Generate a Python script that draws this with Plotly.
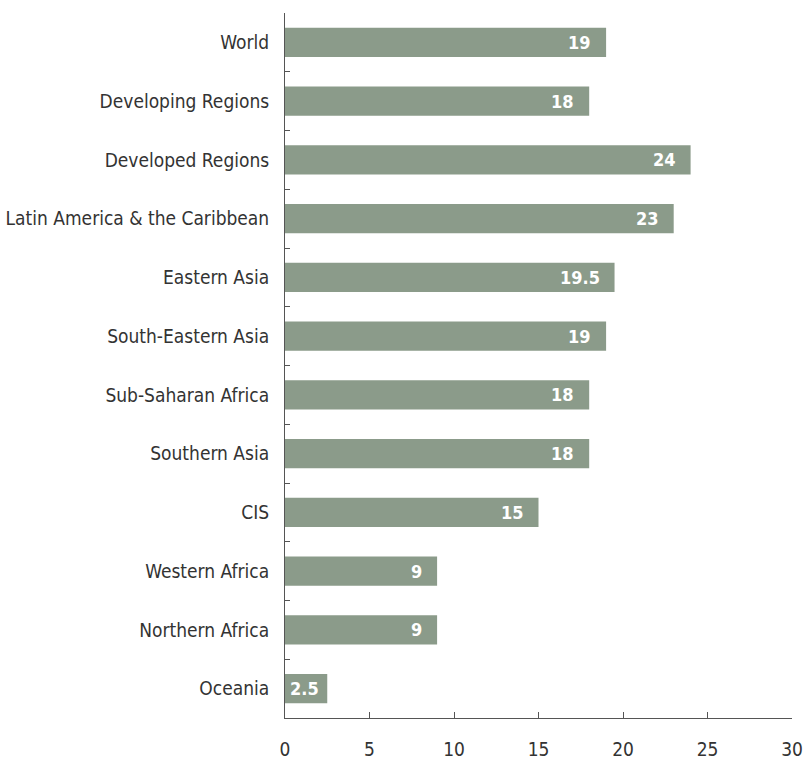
import plotly.graph_objects as go

# Regional values, top to bottom
regions = [
    "World",
    "Developing Regions",
    "Developed Regions",
    "Latin America & the Caribbean",
    "Eastern Asia",
    "South-Eastern Asia",
    "Sub-Saharan Africa",
    "Southern Asia",
    "CIS",
    "Western Africa",
    "Northern Africa",
    "Oceania",
]
values = [19, 18, 24, 23, 19.5, 19, 18, 18, 15, 9, 9, 2.5]
value_labels = ["19", "18", "24", "23", "19.5", "19", "18", "18", "15", "9", "9", "2.5"]
x_ticks = [0, 5, 10, 15, 20, 25, 30]

FONT = "DejaVu Sans Condensed, Roboto, Arial, sans-serif"
BAR_COLOR = "#8b9b8a"
AXIS_COLOR = "#555555"
TEXT_COLOR = "#333333"

fig = go.Figure(
    go.Bar(
        x=values,
        y=regions,
        orientation="h",
        marker=dict(color=BAR_COLOR, line=dict(width=0)),
        hoverinfo="skip",
    )
)

# value labels inside the bar ends
for name, v, lab in zip(regions, values, value_labels):
    fig.add_annotation(
        x=v, y=name, xref="x", yref="y",
        text="<b>" + lab + "</b>",
        showarrow=False, xanchor="right", yanchor="middle",
        xshift=-13 if v > 5 else -6,
        font=dict(family=FONT, size=18, color="white"),
    )

fig.update_layout(
    width=811, height=761,
    margin=dict(l=285, r=19, t=13, b=43),
    plot_bgcolor="white", paper_bgcolor="white",
    bargap=0.5,
    showlegend=False,
    font=dict(family=FONT, size=19, color=TEXT_COLOR),
)

fig.update_xaxes(
    range=[0, 30],
    tickvals=x_ticks,
    ticktext=[str(t) for t in x_ticks],
    showgrid=False, zeroline=False,
    showline=True, linecolor=AXIS_COLOR, linewidth=1,
    ticks="inside", ticklen=6, tickcolor=AXIS_COLOR,
    tickfont=dict(family=FONT, size=19, color=TEXT_COLOR),
    ticklabelstandoff=14,
    automargin=False,
)

fig.update_yaxes(
    categoryorder="array", categoryarray=regions,
    autorange="reversed",
    showgrid=False, zeroline=False,
    showline=True, linecolor=AXIS_COLOR, linewidth=1,
    ticks="inside", ticklen=5, tickcolor=AXIS_COLOR,
    tickson="boundaries",
    tickfont=dict(family=FONT, size=19, color=TEXT_COLOR),
    ticklabelstandoff=11,
    automargin=False,
)

fig.write_html("out.html")
